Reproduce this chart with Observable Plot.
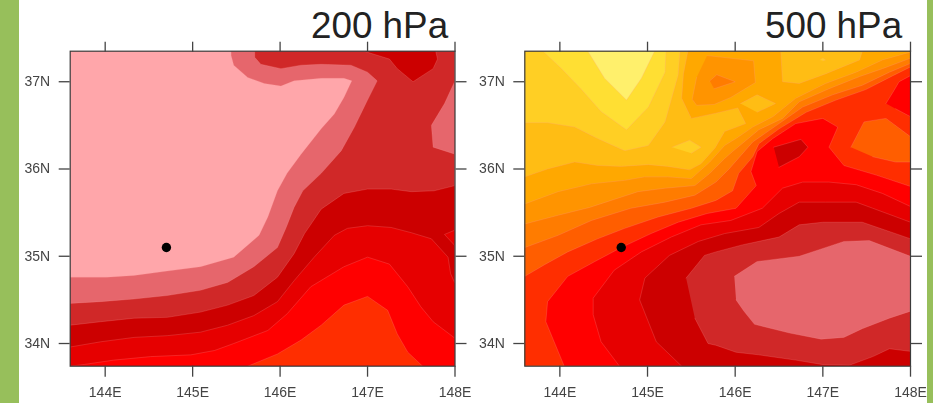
<!DOCTYPE html>
<html><head><meta charset="utf-8">
<script src="https://cdn.jsdelivr.net/npm/d3@7"></script>
<script src="https://cdn.jsdelivr.net/npm/@observablehq/plot@0.6"></script>
<style>
html,body{margin:0;padding:0;background:#fff}
body{position:relative;width:933px;height:403px;overflow:hidden;font-family:"Liberation Sans",sans-serif}
.strip{position:absolute;top:0;height:403px;background:#97bf5b}
.panel{position:absolute;top:0;filter:blur(0.45px)}
.hpa{position:absolute;top:5px;font-size:36.8px;line-height:42px;color:#222;white-space:nowrap}
</style></head><body>
<div class="strip" style="left:0;width:19px"></div>
<div class="strip" style="left:927px;width:6px"></div>
<div class="panel" id="p200" style="left:0"></div>
<div class="panel" id="p500" style="left:466px"></div>
<div class="hpa" style="left:311px">200 hPa</div>
<div class="hpa" style="left:765px">500 hPa</div>
<script>
const lonTicks = [144, 145, 146, 147, 148];
const latTicks = [34, 35, 36, 37];
const site = {lon: 144.7, lat: 35.1};
const W = 143.6, E = 148, S = 33.74, N = 37.35;

const levels = ["A","B","C","D","E","F","G","Gb","H","I","J","K","L","M","P"];
const levelColors = ["#fff06c","#ffdf33","#ffcf24","#ffbd14","#ffa800","#ff9400","#ff7c00","#ff5e00","#ff2e00","#ff0000","#e60000","#cc0000","#d02828","#e6666c","#ffa6aa"];

// 200 hPa bands
const a200base = [[W,N],[E,N],[E,S],[W,S]];
const a200m = [[143.6,34.76],[144.02,34.76],[144.33,34.78],[144.71,34.83],[145.09,34.88],[145.47,34.99],[145.76,35.24],[145.86,35.45],[145.97,35.75],[146.08,35.95],[146.24,36.17],[146.47,36.46],[146.62,36.63],[146.73,36.82],[146.82,37.01],[146.73,37.04],[146.47,37.04],[146.16,37.01],[146.01,36.95],[145.82,36.98],[145.63,37.05],[145.47,37.19],[145.44,37.30],[145.44,37.35],[E,N],[E,S],[W,S]];
const a200l = [[143.6,34.46],[143.95,34.48],[144.33,34.51],[144.71,34.55],[145.09,34.61],[145.40,34.70],[145.70,34.88],[145.97,35.10],[146.07,35.33],[146.16,35.56],[146.26,35.75],[146.47,35.95],[146.70,36.21],[146.85,36.48],[147.0,36.79],[147.11,37.01],[147.0,37.11],[146.81,37.19],[146.47,37.20],[146.24,37.19],[146.01,37.15],[145.78,37.20],[145.71,37.28],[145.71,37.35],[E,N],[E,S],[W,S]];
const a200mEdge = [[148,37.01],[147.88,36.75],[147.73,36.50],[147.75,36.25],[148,36.17]];
const a200k = [[143.6,34.21],[143.95,34.25],[144.33,34.29],[144.71,34.30],[145.09,34.36],[145.40,34.44],[145.70,34.55],[145.97,34.76],[146.16,35.03],[146.28,35.26],[146.47,35.54],[146.73,35.72],[147.0,35.77],[147.27,35.77],[147.50,35.74],[147.76,35.75],[148,35.81],[E,S],[W,S]];
const a200kTop = [[146.96,37.35],[147.25,37.26],[147.34,37.15],[147.52,37.0],[147.75,37.15],[147.80,37.26],[147.78,37.35]];
const a200j = [[143.6,33.96],[143.95,34.02],[144.33,34.07],[144.71,34.09],[145.09,34.13],[145.40,34.21],[145.70,34.32],[145.97,34.48],[146.16,34.72],[146.39,34.99],[146.62,35.24],[146.77,35.32],[147.0,35.35],[147.27,35.33],[147.50,35.27],[147.73,35.20],[147.92,34.99],[147.95,34.80],[148,34.69],[E,S],[W,S]];
const a200jEdge = [[148,35.30],[147.88,35.25],[148,35.12]];
const a200i = [[143.6,33.74],[143.76,33.76],[144.10,33.81],[144.52,33.85],[144.98,33.87],[145.25,33.92],[145.47,34.0],[145.86,34.15],[146.08,34.34],[146.35,34.65],[146.73,34.88],[147.0,34.99],[147.25,34.91],[147.46,34.65],[147.61,34.42],[147.75,34.25],[148,34.06],[E,S]];
const a200h = [[145.63,33.74],[145.97,33.88],[146.24,34.04],[146.47,34.21],[146.73,34.44],[147.0,34.54],[147.23,34.38],[147.34,34.11],[147.46,33.90],[147.63,33.74]];

// 500 hPa bands
const b500base = [[W,N],[E,N],[E,S],[W,S]];
const b500c = [[143.6,36.53],[143.86,36.53],[144.17,36.48],[144.43,36.35],[144.74,36.21],[145.01,36.27],[145.20,36.54],[145.35,37.08],[145.37,37.35],[W,N]];
const b500b = [[143.81,37.35],[144.02,37.15],[144.24,36.92],[144.47,36.66],[144.76,36.45],[145.01,36.71],[145.20,37.11],[145.21,37.35]];
const b500a = [[144.32,37.35],[144.51,37.04],[144.76,36.79],[144.93,37.04],[145.08,37.35]];
const b500cDiamond = [[145.28,36.25],[145.48,36.33],[145.61,36.25],[145.50,36.18]];
const b500e = [[143.6,35.91],[143.86,36.0],[144.17,36.08],[144.43,36.04],[144.70,36.03],[145.01,36.05],[145.23,36.03],[145.48,35.99],[145.61,36.06],[145.77,36.24],[145.88,36.43],[146.12,36.52],[146.03,36.70],[145.78,36.64],[145.50,36.58],[145.39,36.81],[145.41,37.09],[145.46,37.35],[E,N],[E,S],[W,S]];
const b500dTop = [[146.52,37.35],[146.54,37.0],[146.73,36.98],[147.03,37.09],[147.42,37.25],[147.45,37.35]];
const b500cDot = [[146.97,37.25],[147.0,37.27],[147.03,37.25],[147.0,37.24]];
const b500dDiamond = [[146.06,36.75],[146.25,36.85],[146.46,36.75],[146.25,36.65]];
const b500fBlob = [[145.68,37.30],[146.21,37.24],[146.23,36.99],[145.95,36.82],[145.76,36.74],[145.56,36.73],[145.51,36.80],[145.56,37.05]];
const b500gBlob = [[145.71,37.01],[145.79,37.08],[146.0,37.0],[145.76,36.92]];
const b500f = [[143.6,35.60],[143.98,35.74],[144.36,35.83],[144.74,35.87],[144.97,35.91],[145.23,35.91],[145.50,35.89],[145.71,36.08],[145.88,36.27],[146.01,36.35],[146.20,36.48],[146.43,36.60],[146.69,36.81],[147.03,36.98],[147.38,37.11],[147.68,37.25],[148,37.34],[E,S],[W,S]];
const b500g = [[143.6,35.37],[143.98,35.47],[144.34,35.56],[144.89,35.74],[145.20,35.78],[145.54,35.81],[145.71,35.95],[145.88,36.12],[145.97,36.20],[146.27,36.45],[146.54,36.58],[146.73,36.77],[147.07,36.92],[147.42,37.06],[147.68,37.15],[148,37.27],[E,S],[W,S]];
const b500gb = [[143.6,35.10],[143.98,35.24],[144.36,35.41],[144.81,35.55],[145.20,35.62],[145.54,35.70],[145.78,35.85],[145.93,36.0],[146.20,36.31],[146.50,36.52],[146.77,36.71],[147.11,36.85],[147.45,36.96],[147.76,37.11],[148,37.21],[E,S],[W,S]];
const b500h = [[143.6,34.77],[143.82,34.90],[144.09,35.05],[144.43,35.20],[144.74,35.32],[145.12,35.45],[145.50,35.55],[145.78,35.64],[145.97,35.75],[146.04,35.95],[146.20,36.14],[146.27,36.29],[146.50,36.46],[146.81,36.65],[147.15,36.79],[147.49,36.91],[147.80,37.07],[148,37.17],[E,S],[W,S]];
const b500gbBlob = [[147.32,36.25],[147.47,36.54],[147.72,36.58],[148,36.37],[148,36.08],[147.83,36.08],[147.57,36.14]];
const b500i = [[144.05,33.74],[143.84,34.25],[143.86,34.48],[144.09,34.77],[144.40,34.94],[144.70,35.10],[145.04,35.26],[145.35,35.39],[145.68,35.49],[146.01,35.55],[146.24,35.81],[146.18,35.97],[146.25,36.20],[146.43,36.35],[146.69,36.52],[147.0,36.58],[147.17,36.48],[147.07,36.25],[147.24,36.04],[147.61,35.93],[148,35.80],[E,S]];
const b500iBlob = [[147.72,36.75],[147.80,36.88],[147.87,37.0],[148,37.07],[148,36.60],[147.83,36.69]];
const b500kBlob = [[146.44,36.25],[146.75,36.34],[146.83,36.25],[146.73,36.14],[146.50,36.02]];
const b500j = [[144.68,33.74],[144.47,34.02],[144.38,34.33],[144.38,34.52],[144.62,34.84],[144.93,35.05],[145.27,35.22],[145.61,35.36],[145.95,35.41],[146.31,35.55],[146.54,35.78],[146.77,35.85],[147.07,35.85],[147.38,35.82],[147.68,35.72],[148,35.57],[E,S]];
const b500k = [[145.39,33.74],[145.10,34.02],[144.91,34.50],[144.97,34.75],[145.25,35.01],[145.58,35.17],[145.88,35.26],[146.27,35.33],[146.50,35.49],[146.73,35.62],[147.03,35.62],[147.38,35.62],[147.57,35.55],[148,35.39],[E,S]];
const b500l = [[145.44,34.75],[145.65,35.01],[145.78,35.05],[146.08,35.13],[146.50,35.22],[146.73,35.36],[147.0,35.39],[147.45,35.39],[148,35.20],[148,33.91],[147.76,33.94],[147.57,33.85],[147.30,33.75],[146.99,33.76],[146.69,33.81],[146.27,33.87],[146.01,33.90],[145.78,33.98],[145.69,34.0],[145.54,34.29]];
const b500m = [[145.99,34.77],[146.25,34.94],[146.73,35.0],[147.0,35.09],[147.24,35.17],[147.53,35.18],[148,35.0],[148,34.37],[147.76,34.29],[147.45,34.17],[147.24,34.07],[146.98,34.05],[146.62,34.12],[146.22,34.22],[146.10,34.37],[146.01,34.50]];

const bands200 = [["P",a200base],["M",a200m],["L",a200l],["M",a200mEdge],["K",a200k],["K",a200kTop],["J",a200j],["J",a200jEdge],["I",a200i],["H",a200h]];
const bands500 = [["D",b500base],["C",b500c],["B",b500b],["A",b500a],["C",b500cDiamond],["E",b500e],["D",b500dTop],["C",b500cDot],["D",b500dDiamond],["F",b500fBlob],["G",b500gBlob],["F",b500f],["G",b500g],["Gb",b500gb],["H",b500h],["Gb",b500gbBlob],["I",b500i],["I",b500iBlob],["K",b500kBlob],["J",b500j],["K",b500k],["L",b500l],["M",b500m]];

function rows(bands) {
  return bands.flatMap(([level, pts], id) => pts.map(([lon, lat]) => ({id, level, lon, lat})));
}

function panel(bands, width, marginLeft, marginRight) {
  return Plot.plot({
    width, height: 403,
    marginLeft, marginRight, marginTop: 50.7, marginBottom: 37.3,
    style: {background: "transparent", overflow: "visible", fontFamily: "'Liberation Sans',sans-serif"},
    x: {domain: [W, E]},
    y: {domain: [S, N]},
    color: {type: "ordinal", domain: levels, range: levelColors},
    marks: [
      Plot.line(rows(bands), {x: "lon", y: "lat", z: "id", fill: "level", stroke: "#ff9c9c", strokeWidth: 0.5, strokeOpacity: 0.45, clip: true}),
      Plot.dot([site], {x: "lon", y: "lat", r: 4.7, fill: "black", stroke: "none"}),
      Plot.frame({stroke: "#3a3a3a", strokeWidth: 1.2}),
      Plot.axisX({anchor: "bottom", ticks: lonTicks, tickSize: 11, tickPadding: 10, tickFormat: d => d + "E", label: null, fontSize: 14, color: "#444", stroke: "#444", strokeWidth: 1.3}),
      Plot.axisX({anchor: "top", ticks: lonTicks, tickSize: 10, text: null, label: null, stroke: "#444", strokeWidth: 1.3}),
      Plot.axisY({anchor: "left", ticks: latTicks, tickSize: 11, tickPadding: 9, tickFormat: d => d + "N", label: null, fontSize: 14, color: "#444", stroke: "#444", strokeWidth: 1.3}),
      Plot.axisY({anchor: "right", ticks: latTicks, tickSize: 11, text: null, label: null, stroke: "#444", strokeWidth: 1.3})
    ]
  });
}

document.getElementById("p200").append(panel(bands200, 466, 69.7, 11.5));
document.getElementById("p500").append(panel(bands500, 467, 58.3, 23));
</script>
</body></html>
